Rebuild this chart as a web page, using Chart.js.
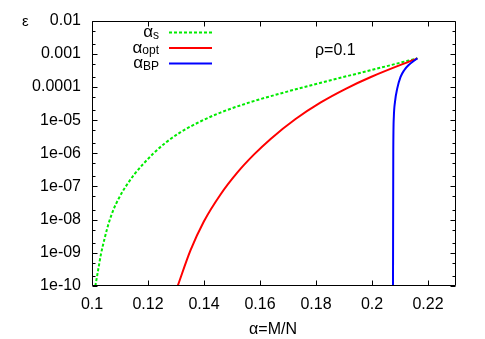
<!DOCTYPE html>
<html>
<head>
<meta charset="utf-8">
<script src="https://cdn.jsdelivr.net/npm/chart.js@4"></script>
<style>
  html, body { margin: 0; padding: 0; background: #fff; }
</style>
</head>
<body>
<canvas id="chart" width="485" height="339"></canvas>
<script>
// curves: alpha = M/N on x, epsilon on a log y axis
const alphaS = [0.1012, 0.1022, 0.1032, 0.1045, 0.1059, 0.1075, 0.1097, 0.1122, 0.1150, 0.1183,
                0.1219, 0.1262, 0.1315, 0.1387, 0.1459, 0.1566, 0.1691, 0.1817, 0.1996, 0.2162];
const epsS   = [1e-10, 3.05e-10, 9.1e-10, 2.71e-9, 7.5e-9, 1.85e-8, 4.6e-8, 1.04e-7, 2.25e-7, 4.75e-7,
                9.8e-7, 2.06e-6, 4.25e-6, 9.1e-6, 1.69e-5, 3.48e-5, 7.0e-5, 1.34e-4, 3.2e-4, 7.3e-4];

const alphaOpt = [0.1306, 0.1352, 0.1399, 0.1459, 0.1518, 0.1578, 0.1638, 0.1727, 0.1817, 0.1906,
                  0.1996, 0.2162];
const epsOpt   = [1e-10, 1.2e-9, 8.65e-9, 5.75e-8, 2.57e-7, 9.1e-7, 2.72e-6, 1.08e-5, 3.42e-5, 8.8e-5,
                  1.99e-4, 7.3e-4];

const alphaBP = [0.2075, 0.2076, 0.2078, 0.2082, 0.2090, 0.2102, 0.2115, 0.2130, 0.2162];
const epsBP   = [1e-10, 1e-6, 1.26e-5, 3.5e-5, 8.9e-5, 2.0e-4, 3.2e-4, 4.5e-4, 7.3e-4];

const seriesSubs = ["s", "opt", "BP"];
const seriesColors = ["rgb(0,235,0)", "#ff0000", "#0000ff"];

const xTicks = [0.1, 0.12, 0.14, 0.16, 0.18, 0.2, 0.22];
const xTickLabels = ["0.1", "0.12", "0.14", "0.16", "0.18", "0.2", "0.22"];
const yTicks = [1e-10, 1e-9, 1e-8, 1e-7, 1e-6, 1e-5, 1e-4, 1e-3, 1e-2];
const yTickLabels = ["1e-10", "1e-09", "1e-08", "1e-07", "1e-06", "1e-05", "0.0001", "0.001", "0.01"];

const FONT = '"Liberation Sans", Arial, sans-serif';

function toPoints(xs, ys) {
  return xs.map((x, i) => ({ x: x, y: ys[i] }));
}

// gnuplot-like box with inward ticks, key and free labels
const decorations = {
  id: "decorations",
  afterDatasetsDraw(chart) {
    const { ctx, chartArea: a } = chart;
    const xs = chart.scales.x, ys = chart.scales.y;
    const L = Math.round(a.left) + 0.5, R = Math.round(a.right) - 0.5;
    const T = Math.round(a.top) + 0.5, B = Math.round(a.bottom) - 0.5;
    ctx.save();
    ctx.strokeStyle = "#000";
    ctx.lineWidth = 1;
    ctx.beginPath();
    ctx.rect(L, T, R - L, B - T);
    xTicks.forEach(v => {
      const px = Math.round(xs.getPixelForValue(v)) + 0.5;
      ctx.moveTo(px, B); ctx.lineTo(px, B - 5);
      ctx.moveTo(px, T); ctx.lineTo(px, T + 5);
    });
    yTicks.forEach((v, i) => {
      const py = Math.round(ys.getPixelForValue(v)) + 0.5;
      ctx.moveTo(L, py); ctx.lineTo(L + 5, py);
      ctx.moveTo(R, py); ctx.lineTo(R - 5, py);
      if (i < yTicks.length - 1) {
        [2, 5].forEach(m => {
          const pm = Math.round(ys.getPixelForValue(v * m)) + 0.5;
          ctx.moveTo(L, pm); ctx.lineTo(L + 3, pm);
          ctx.moveTo(R, pm); ctx.lineTo(R - 3, pm);
        });
      }
    });
    ctx.stroke();

    // key
    ctx.fillStyle = "#000";
    ctx.textBaseline = "alphabetic";
    chart.data.datasets.forEach((ds, i) => {
      const ly = 32.5 + i * 15.5;
      ctx.font = "12px " + FONT;
      const subW = ctx.measureText(seriesSubs[i]).width;
      ctx.textAlign = "right";
      ctx.fillText(seriesSubs[i], 159, ly + 6);
      ctx.font = "17px " + FONT;
      ctx.fillText("α", 159 - subW, ly + 4.5);
      ctx.strokeStyle = ds.borderColor;
      ctx.lineWidth = 2;
      ctx.setLineDash(ds.borderDash || []);
      ctx.beginPath();
      ctx.moveTo(169, ly); ctx.lineTo(212, ly);
      ctx.stroke();
      ctx.setLineDash([]);
    });

    ctx.font = "16px " + FONT;
    ctx.textAlign = "left";
    ctx.fillText("ρ=0.1", 315, 55);
    ctx.font = "15px " + FONT;
    ctx.fillText("ε", 22, 25.5);
    ctx.font = "16px " + FONT;
    ctx.textAlign = "center";
    ctx.fillText("α=M/N", 273, 334);
    ctx.restore();
  }
};

Chart.defaults.font.family = FONT;
Chart.defaults.font.size = 16;
Chart.defaults.color = "#000";

new Chart(document.getElementById("chart"), {
  type: "line",
  data: {
    datasets: [
      { label: "αs", data: toPoints(alphaS, epsS), borderColor: seriesColors[0], borderDash: [3, 2], order: 3 },
      { label: "αopt", data: toPoints(alphaOpt, epsOpt), borderColor: seriesColors[1], order: 2 },
      { label: "αBP", data: toPoints(alphaBP, epsBP), borderColor: seriesColors[2], order: 1 }
    ].map(d => Object.assign(d, {
      pointRadius: 0, borderWidth: 2, fill: false,
      cubicInterpolationMode: "monotone"
    }))
  },
  options: {
    responsive: false,
    animation: false,
    layout: { padding: { top: 19, right: 29, left: 0, bottom: 0 } },
    plugins: { legend: { display: false }, tooltip: { enabled: false } },
    scales: {
      x: {
        type: "linear", min: 0.1, max: 0.23,
        afterBuildTicks: s => { s.ticks = xTicks.map(v => ({ value: v })); },
        afterFit: s => { s.height = 53; },
        ticks: { autoSkip: false, maxRotation: 0, padding: 9, callback: (v, i) => xTickLabels[i] },
        grid: { display: false, drawTicks: false },
        border: { display: false }
      },
      y: {
        type: "logarithmic", min: 1e-10, max: 1e-2,
        afterBuildTicks: s => { s.ticks = yTicks.map(v => ({ value: v })); },
        afterFit: s => { s.width = 92; },
        ticks: { autoSkip: false, padding: 11, callback: (v, i) => yTickLabels[i] },
        grid: { display: false, drawTicks: false },
        border: { display: false }
      }
    }
  },
  plugins: [decorations]
});
</script>
</body>
</html>
